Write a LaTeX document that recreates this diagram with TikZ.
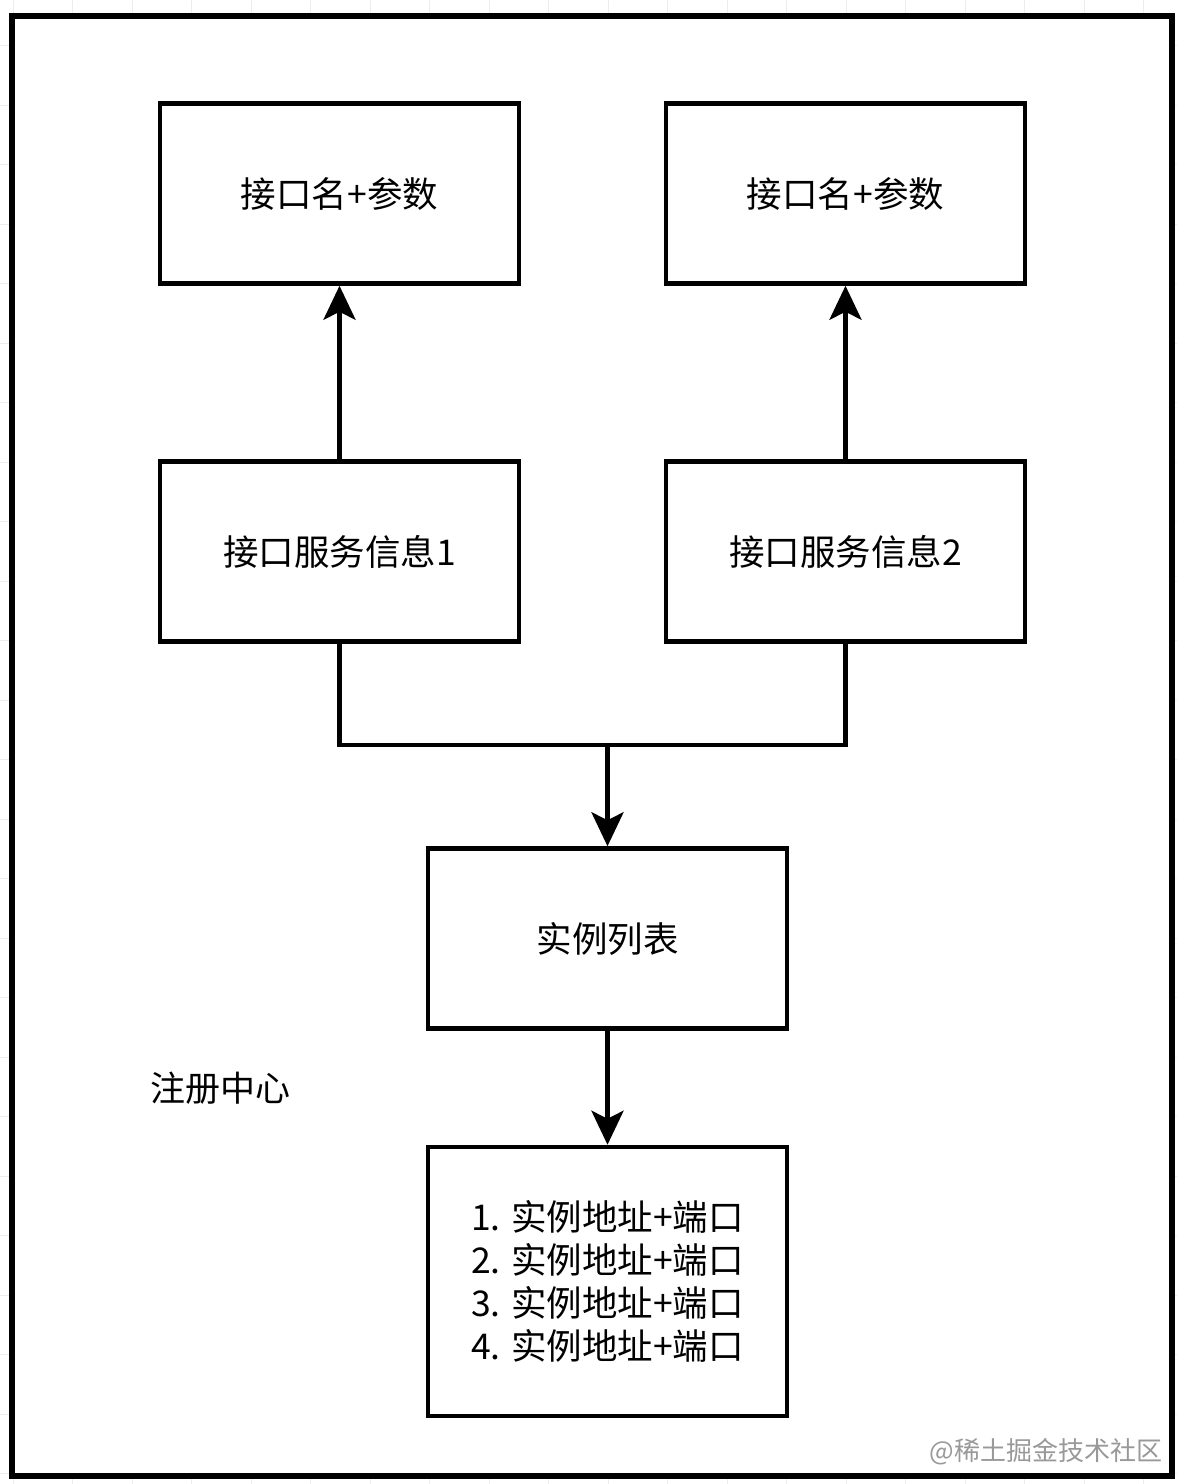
\documentclass[tikz,border=0pt]{standalone}
\usepackage{fontspec}
\setmainfont{Noto Sans CJK SC}
\usetikzlibrary{arrows.meta}

\tikzset{
    box/.style={draw, line width=4.5pt, fill=white, minimum width=359pt, minimum height=180pt,
        inner sep=0pt, font=\fontsize{35.5}{40}\selectfont},
    conn/.style={line width=4.5pt, line join=miter},
    tip/.style={-{Stealth[length=34pt, width=32pt, inset=8pt]}}
}

\begin{document}
\begin{tikzpicture}[x=1pt, y=-1pt]

\useasboundingbox (0,0) rectangle (1177,1484);

% --- BACKGROUND GRID (margin only) ---
\foreach \gx in {13,72.5,...,1177}
    \draw[black!7, line width=0.8pt] (\gx,0) -- (\gx,1484);
\foreach \gy in {-14,45.5,...,1484}
    \draw[black!7, line width=0.8pt] (0,\gy) -- (1177,\gy);

% --- OUTER FRAME: REGISTRY ---
\draw[line width=6pt, fill=white] (12,15.5) rectangle (1172,1475.5);

% Box positions
\coordinate (P1) at (339.5,193.5);
\coordinate (P2) at (845.5,193.5);
\coordinate (S1) at (339.5,551.5);
\coordinate (S2) at (845.5,551.5);
\coordinate (L)  at (607.5,938.5);
\coordinate (A)  at (607.5,1281.5);

% Junction of the two service boxes
\coordinate (JL) at (339.5,745);
\coordinate (JC) at (607.5,745);
\coordinate (JR) at (845.5,745);

% --- NODES ---
\node[box] (param1) at (P1) {接口名+参数};
\node[box] (param2) at (P2) {接口名+参数};
\node[box] (svc1) at (S1) {接口服务信息1};
\node[box] (svc2) at (S2) {接口服务信息2};
\node[box] (inst) at (L) {实例列表};
\node[box, minimum height=269pt, align=left, font=\fontsize{35.5}{43}\selectfont] (addr) at (A)
    {1. 实例地址+端口\\2. 实例地址+端口\\3. 实例地址+端口\\4. 实例地址+端口};

\node[font=\fontsize{35}{40}\selectfont] (reg) at (220,1088) {注册中心};
\node[font=\fontsize{26}{30}\selectfont, text=black!40] (mark) at (1046,1452) {@稀土掘金技术社区};

% --- CONNECTORS ---
\draw[conn, tip] (svc1) -- (param1);
\draw[conn, tip] (svc2) -- (param2);
\draw[conn] (svc1) -- (JL) -- (JR) -- (svc2);
\draw[conn, tip] (JC) -- (inst);
\draw[conn, tip] (inst) -- (addr);

\end{tikzpicture}
\end{document}
